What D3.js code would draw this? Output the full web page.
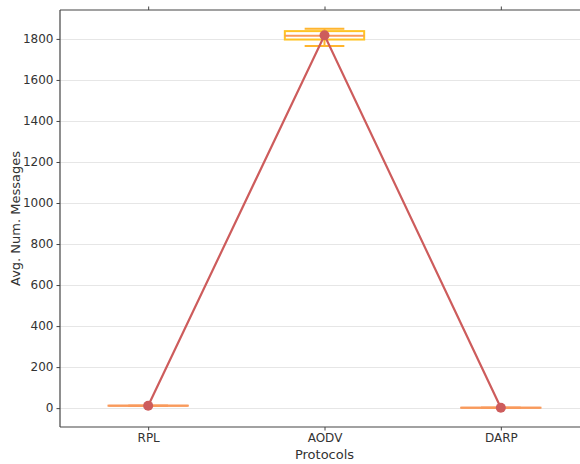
<!DOCTYPE html>
<html>
<head>
<meta charset="utf-8">
<script src="https://cdn.jsdelivr.net/npm/d3@7"></script>
<style>
  body { margin: 0; background: #fff; }
  text { font-family: "DejaVu Sans", sans-serif; fill: #333; }
</style>
</head>
<body>
<div id="chart"></div>
<script>
// data
var protocols = ["RPL", "AODV", "DARP"];
var meanMsgs = [12, 1818, 2];
var whiskLow = [12, 1765, 2];
var q1 = [12, 1797, 2];
var median = [12, 1815, 2];
var q3 = [12, 1838, 2];
var whiskHigh = [12, 1850, 2];
var yTicks = [0, 200, 400, 600, 800, 1000, 1200, 1400, 1600, 1800];

var width = 580, height = 464;
var margin = { top: 10, left: 60, bottom: 37 };
var plotRight = 589; // axes run past the window edge

var svg = d3.select('#chart')
    .append('svg')
    .attr('width', width)
    .attr('height', height);

var x = d3.scaleLinear()
    .domain([-0.5, protocols.length - 0.5])
    .range([margin.left, plotRight]);

var y = d3.scaleLinear()
    .domain([-92, 1941])
    .range([height - margin.bottom, margin.top]);

// grid
svg.append('g')
    .selectAll('line')
    .data(yTicks)
    .enter()
    .append('line')
    .attr('x1', margin.left)
    .attr('x2', plotRight)
    .attr('y1', function (d) { return Math.round(y(d)) + 0.5; })
    .attr('y2', function (d) { return Math.round(y(d)) + 0.5; })
    .attr('stroke', '#e6e6e6')
    .attr('stroke-width', 1.2);

// boxes
var boxW = 0.45, capW = 0.225;
var boxes = svg.append('g');
protocols.forEach(function (p, i) {
    var flat = q3[i] - q1[i] < 1;
    var col = flat ? '#f99a5c' : '#ffc324';
    // whisker
    boxes.append('line')
        .attr('x1', x(i)).attr('x2', x(i))
        .attr('y1', y(whiskLow[i])).attr('y2', y(whiskHigh[i]))
        .attr('stroke', '#ffb52e').attr('stroke-width', 2);
    // caps
    [whiskLow[i], whiskHigh[i]].forEach(function (v) {
        boxes.append('line')
            .attr('x1', x(i - capW / 2)).attr('x2', x(i + capW / 2))
            .attr('y1', y(v)).attr('y2', y(v))
            .attr('stroke', flat ? col : '#ffb52e').attr('stroke-width', 2);
    });
    boxes.append('rect')
        .attr('x', x(i - boxW / 2))
        .attr('y', y(q3[i]))
        .attr('width', x(i + boxW / 2) - x(i - boxW / 2))
        .attr('height', Math.max(0.01, y(q1[i]) - y(q3[i])))
        .attr('fill', '#fff')
        .attr('stroke', col)
        .attr('stroke-width', 2);
    boxes.append('line')
        .attr('x1', x(i - boxW / 2)).attr('x2', x(i + boxW / 2))
        .attr('y1', y(median[i])).attr('y2', y(median[i]))
        .attr('stroke', '#f99a5c').attr('stroke-width', 2);
});

// mean line
var line = d3.line()
    .x(function (d, i) { return x(i); })
    .y(function (d) { return y(d); });

svg.append('path')
    .datum(meanMsgs)
    .attr('d', line)
    .attr('fill', 'none')
    .attr('stroke', '#cd5c5c')
    .attr('stroke-width', 2.2);

svg.append('g')
    .selectAll('circle')
    .data(meanMsgs)
    .enter()
    .append('circle')
    .attr('cx', function (d, i) { return x(i); })
    .attr('cy', function (d) { return y(d); })
    .attr('r', 5)
    .attr('fill', '#cd5c5c');

// axes
var yAxis = d3.axisLeft(y).tickValues(yTicks).tickFormat(d3.format('d'))
    .tickSize(3.5).tickPadding(3);
var gy = svg.append('g')
    .attr('transform', 'translate(' + margin.left + ',0)')
    .call(yAxis);
gy.select('.domain').remove();

var xBottom = d3.axisBottom(x)
    .tickValues(d3.range(protocols.length))
    .tickFormat(function (d) { return protocols[d]; })
    .tickSize(3.5).tickPadding(3);
var gx = svg.append('g')
    .attr('transform', 'translate(0,' + (height - margin.bottom) + ')')
    .call(xBottom);
gx.select('.domain').remove();

var xTop = d3.axisTop(x)
    .tickValues(d3.range(protocols.length))
    .tickFormat('')
    .tickSize(3.5);
var gt = svg.append('g')
    .attr('transform', 'translate(0,' + margin.top + ')')
    .call(xTop);
gt.select('.domain').remove();

svg.selectAll('.tick line').attr('stroke', '#444').attr('stroke-width', 1);
svg.selectAll('.tick text')
    .style('font-size', '12px')
    .style('font-family', '"DejaVu Sans", sans-serif')
    .attr('fill', '#333');

// spines
var spine = svg.append('g').attr('stroke', '#444').attr('stroke-width', 1.2);
spine.append('line')
    .attr('x1', margin.left).attr('x2', margin.left)
    .attr('y1', margin.top).attr('y2', height - margin.bottom);
spine.append('line')
    .attr('x1', margin.left).attr('x2', plotRight)
    .attr('y1', margin.top).attr('y2', margin.top);
spine.append('line')
    .attr('x1', margin.left).attr('x2', plotRight)
    .attr('y1', height - margin.bottom).attr('y2', height - margin.bottom);

// labels
svg.append('text')
    .attr('x', (margin.left + plotRight) / 2)
    .attr('y', 459)
    .style('text-anchor', 'middle')
    .style('font-size', '13px')
    .text('Protocols');

svg.append('text')
    .attr('transform', 'translate(20,' + ((margin.top + height - margin.bottom) / 2) + ') rotate(-90)')
    .style('text-anchor', 'middle')
    .style('font-size', '13px')
    .text('Avg. Num. Messages');
</script>
</body>
</html>
